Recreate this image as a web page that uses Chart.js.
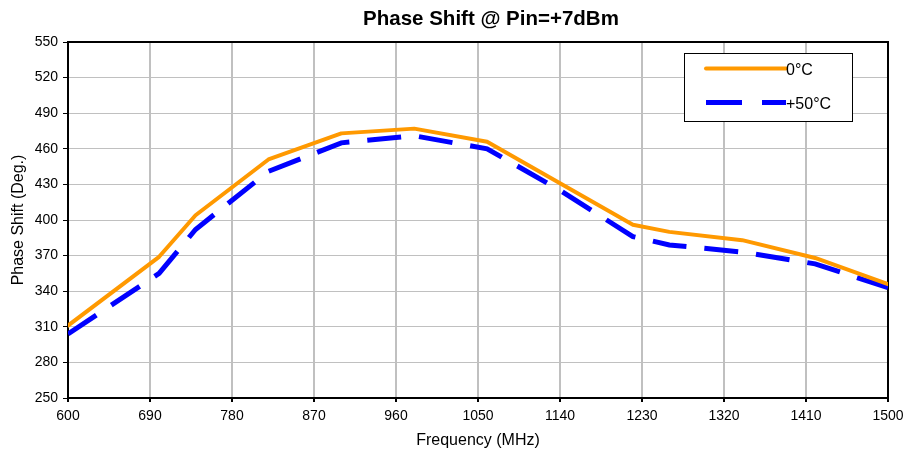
<!DOCTYPE html>
<html>
<head>
<meta charset="utf-8">
<script src="https://cdn.jsdelivr.net/npm/chart.js@4.4.0/dist/chart.umd.min.js"></script>
<style>
  html, body { margin: 0; padding: 0; background: #fff; }
  #wrap { width: 906px; height: 456px; }
</style>
</head>
<body>
<div id="wrap"><canvas id="phaseChart" width="906" height="456"></canvas></div>
<script>
const freqMHz = [600, 700, 740, 820, 900, 980, 1060, 1140, 1220, 1260, 1340, 1420, 1500];
const phase0C = [311, 369, 404, 451, 473, 477, 466, 431, 396, 390, 383, 368, 346];
const phase50C = [304, 355, 392, 441, 465, 471, 460, 425, 386, 379, 373, 363, 343];
const seriesLabels = ['0°C', '+50°C'];
const chartTitle = 'Phase Shift @ Pin=+7dBm';
const xTitle = 'Frequency (MHz)';
const yTitle = 'Phase Shift (Deg.)';

const FONT = 'Liberation Sans, Arial, sans-serif';

function toPoints(xs, ys) {
    return xs.map((x, i) => ({ x: x, y: ys[i] }));
}

// titre + cadre du graphique + légende
const excelLook = {
    id: 'excelLook',
    beforeDatasetsDraw(chart) {
        const { ctx, chartArea: a } = chart;
        ctx.save();
        ctx.strokeStyle = '#000';
        ctx.lineWidth = 2;
        ctx.strokeRect(a.left, a.top, a.right - a.left, a.bottom - a.top);
        ctx.restore();
    },
    afterDraw(chart) {
        const ctx = chart.ctx;
        ctx.save();
        ctx.fillStyle = '#000';
        ctx.font = 'bold 20.5px ' + FONT;
        ctx.textAlign = 'center';
        ctx.textBaseline = 'middle';
        ctx.fillText(chartTitle, 491, 19);

        // legende
        const box = { x: 684.5, y: 53.5, w: 168, h: 68 };
        ctx.fillStyle = '#fff';
        ctx.fillRect(box.x, box.y, box.w, box.h);
        ctx.strokeStyle = '#000';
        ctx.lineWidth = 1;
        ctx.strokeRect(box.x, box.y, box.w, box.h);

        const rows = [68.5, 102.5];
        chart.data.datasets.forEach((ds, i) => {
            ctx.beginPath();
            ctx.strokeStyle = ds.borderColor;
            ctx.lineWidth = ds.borderWidth;
            ctx.lineCap = ds.borderDash ? 'butt' : 'round';
            ctx.setLineDash(ds.borderDash ? [36, 20] : []);
            ctx.moveTo(706, rows[i]);
            ctx.lineTo(786, rows[i]);
            ctx.stroke();
            ctx.setLineDash([]);
            ctx.fillStyle = '#000';
            ctx.font = '16px ' + FONT;
            ctx.textAlign = 'left';
            ctx.fillText(ds.label, 786, rows[i] + 2.5);
        });
        ctx.restore();
    }
};

new Chart(document.getElementById('phaseChart').getContext('2d'), {
    type: 'line',
    data: {
        datasets: [{
            label: seriesLabels[0],
            data: toPoints(freqMHz, phase0C),
            borderColor: '#FF9900',
            borderWidth: 4,
            borderJoinStyle: 'round',
            borderCapStyle: 'round',
            pointRadius: 0,
            fill: false,
            tension: 0
        }, {
            label: seriesLabels[1],
            data: toPoints(freqMHz, phase50C),
            borderColor: '#0000FF',
            borderWidth: 5,
            borderDash: [34, 18],
            pointRadius: 0,
            fill: false,
            tension: 0
        }]
    },
    options: {
        responsive: false,
        animation: false,
        layout: { padding: { top: 42, right: 18, left: 0, bottom: 0 } },
        plugins: {
            legend: { display: false },
            title: { display: false },
            tooltip: { enabled: false }
        },
        scales: {
            x: {
                type: 'linear',
                min: 600,
                max: 1500,
                afterFit(s) {
                    s.height = 58;
                    s.paddingLeft = 0;
                    s.paddingRight = 0;
                },
                ticks: {
                    stepSize: 90,
                    color: '#000',
                    padding: 6,
                    maxRotation: 0,
                    font: { family: FONT, size: 14 },
                    callback: (v) => String(v)
                },
                grid: { color: '#C0C0C0', lineWidth: 2, tickColor: '#000', tickLength: 4 },
                border: { color: '#000', width: 2 },
                title: {
                    display: true,
                    text: xTitle,
                    color: '#000',
                    font: { family: FONT, size: 16 },
                    padding: { top: 0, bottom: 5.5 }
                }
            },
            y: {
                min: 250,
                max: 550,
                afterFit(s) {
                    s.width = 68;
                    s.paddingTop = 0;
                    s.paddingBottom = 0;
                },
                ticks: {
                    stepSize: 30,
                    color: '#000',
                    padding: 5,
                    font: { family: FONT, size: 14 },
                    callback: (v) => String(v)
                },
                grid: { color: '#C0C0C0', lineWidth: 1, tickColor: '#000', tickLength: 5 },
                border: { color: '#000', width: 2 },
                title: {
                    display: true,
                    text: yTitle,
                    color: '#000',
                    font: { family: FONT, size: 16 },
                    padding: { top: 8.5, bottom: 0 }
                }
            }
        }
    },
    plugins: [excelLook]
});
</script>
</body>
</html>
